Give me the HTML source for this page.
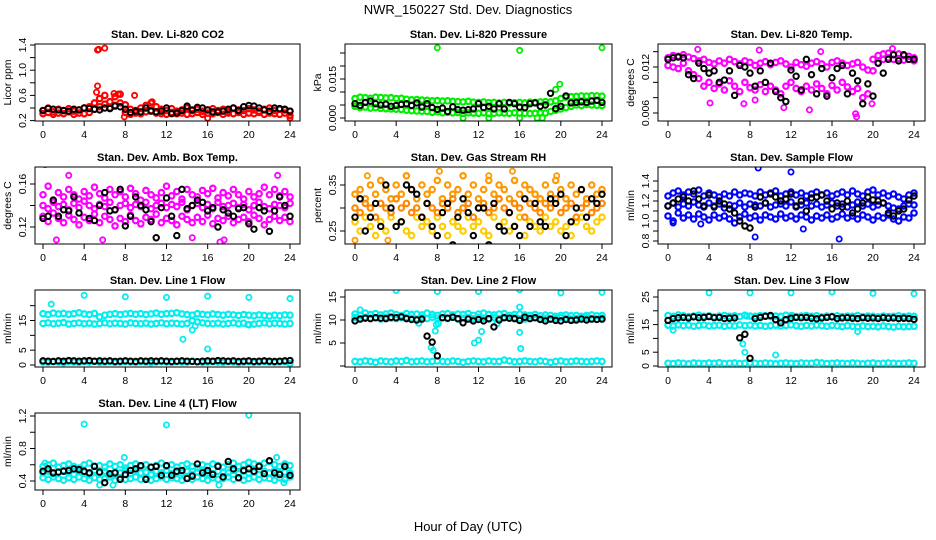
<!DOCTYPE html>
<html><head><meta charset="utf-8"><style>
body{margin:0;background:#fff;}
svg{display:block;font-family:"Liberation Sans",sans-serif;}
</style></head><body>
<svg id="chart" width="936" height="540" viewBox="0 0 936 540">
<rect width="936" height="540" fill="#fff"/>
<text x="468" y="14" text-anchor="middle" font-size="13">NWR_150227  Std. Dev. Diagnostics</text>
<text x="468" y="531" text-anchor="middle" font-size="13">Hour of Day (UTC)</text>
</svg>
<script>
const xTicks=[0,4,8,12,16,20,24];
// P1 CO2
const co2A=[0.36,0.40,0.34,0.38,0.36,0.39,0.35,0.37,0.40,0.42,0.48,0.55,0.60,0.50,0.58,0.62,0.45,0.38,0.36,0.40,0.44,0.48,0.42,0.38,0.36,0.39,0.35,0.37,0.40,0.36,0.38,0.35,0.37,0.39,0.36,0.38,0.35,0.40,0.37,0.36,0.39,0.37,0.35,0.38,0.40,0.36,0.38,0.37,0.35];
const co2B=[0.31,0.33,0.30,0.32,0.31,0.34,0.30,0.32,0.31,0.33,0.38,0.42,0.46,0.40,0.44,0.48,0.33,0.30,0.32,0.31,0.34,0.36,0.32,0.31,0.30,0.33,0.31,0.32,0.30,0.31,0.33,0.30,0.32,0.31,0.33,0.30,0.32,0.31,0.33,0.30,0.32,0.31,0.33,0.30,0.32,0.31,0.30,0.32,0.28];
const co2ExH=[5.3,5.4,6.0,5.3,5.2,6.9,7.3,8.9,16,24,7.9,10.6];
const co2ExV=[1.32,1.33,1.35,0.75,0.65,0.63,0.62,0.60,0.24,0.24,0.26,0.50];
const co2K=[0.36,0.39,0.38,0.37,0.36,0.35,0.38,0.37,0.40,0.39,0.38,0.37,0.40,0.39,0.43,0.42,0.38,0.33,0.35,0.34,0.40,0.35,0.34,0.35,0.40,0.31,0.32,0.36,0.43,0.37,0.41,0.40,0.37,0.34,0.34,0.35,0.38,0.40,0.36,0.42,0.44,0.43,0.40,0.37,0.35,0.40,0.39,0.38,0.35];
// P2 Pressure
const prA=[.0075,.008,.0078,.0076,.008,.0079,.0077,.0078,.0075,.0076,.0072,.007,.0071,.0069,.0068,.0066,.0067,.0065,.0066,.0064,.0063,.0062,.0064,.0061,.006,.0062,.0059,.006,.0058,.006,.0057,.0059,.006,.0058,.0061,.006,.0062,.0063,.0062,.0066,.0075,.008,.0082,.0083,.0085,.0084,.0086,.0085,.0084];
const prB=[.0045,.004,.0042,.0038,.004,.0037,.0036,.0035,.0034,.0033,.003,.0028,.0027,.0026,.0025,.0022,.0024,.002,.0022,.002,.0021,.0018,.002,.0019,.0018,.002,.0017,.0018,.002,.0019,.0018,.002,.0019,.0018,.0017,.0018,.002,.0019,.0025,.003,.0035,.004,.0045,.005,.0048,.0052,.005,.0049,.0048];
const prExH=[8,16,24,10.5,13,16,17.7,18.2,19.5,19.9];
const prExV=[.027,.026,.027,0,0,0,0,0,.011,.013];
const prK=[.0055,.0048,.006,.0065,.0055,.005,.0053,.0045,.0048,.0052,.0055,.0048,.0058,.0042,.0055,.004,.0033,.0038,.0025,.0043,.0032,.003,.0032,.0035,.0055,.004,.0045,.0035,.0055,.0035,.006,.0055,.0042,.004,.0055,.0058,.0045,.005,.0095,.0036,.0045,.0085,.0058,.006,.0062,.006,.0065,.0068,.006];
// P3 Li-820 Temp
const ltA=[.0132,.0135,.0134,.0136,.0133,.0131,.0128,.0130,.0126,.0124,.0128,.0125,.0130,.0127,.0124,.0128,.0126,.0122,.0125,.0127,.0123,.0126,.0128,.0124,.0120,.0126,.0123,.0121,.0125,.0127,.0124,.0120,.0126,.0128,.0125,.0122,.0124,.0126,.0120,.0116,.0130,.0135,.0137,.0138,.0136,.0137,.0135,.0134,.0132];
const ltB=[.0122,.0120,.0118,.0125,.0115,.0110,.0105,.0095,.0100,.0092,.0098,.0090,.0102,.0095,.0088,.0100,.0093,.0090,.0097,.0088,.0095,.0090,.0085,.0095,.0100,.0092,.0088,.0095,.0090,.0098,.0092,.0085,.0096,.0090,.0100,.0094,.0088,.0092,.0080,.0085,.0115,.0125,.0130,.0132,.0130,.0131,.0129,.0130,.0128];
const ltExH=[2.9,4.1,7.4,8.5,8.9,11.3,13.8,14.9,18.3,18.4,19.9,21.9];
const ltExV=[.0143,.0073,.0072,.0077,.0142,.0067,.0064,.0140,.0059,.0055,.0072,.0144];
const ltK=[.0130,.0132,.0133,.0132,.0110,.0105,.0125,.0118,.0112,.0115,.0100,.0103,.0115,.0083,.0122,.0120,.0112,.0095,.0115,.0100,.0125,.0088,.0080,.0075,.0116,.0108,.0090,.0130,.0110,.0085,.0118,.0082,.0106,.0118,.0122,.0085,.0112,.0102,.0072,.0098,.0082,.0125,.0112,.0130,.0136,.0128,.0136,.0130,.0130];
// P4 Amb box temp
const abA=[.150,.158,.145,.152,.148,.155,.150,.146,.153,.149,.157,.151,.147,.155,.150,.153,.148,.156,.151,.145,.154,.150,.147,.152,.158,.149,.153,.146,.155,.150,.148,.154,.151,.156,.147,.152,.149,.155,.150,.146,.153,.148,.151,.157,.150,.155,.149,.153,.148];
const abB=[.130,.125,.133,.128,.124,.131,.127,.122,.129,.126,.132,.124,.130,.127,.121,.128,.125,.131,.126,.123,.129,.127,.132,.124,.128,.126,.122,.130,.127,.124,.129,.125,.131,.123,.128,.126,.130,.124,.127,.129,.125,.131,.128,.122,.127,.130,.126,.129,.125];
const abC=[.140,.137,.143,.139,.141,.136,.142,.138,.144,.140,.137,.141,.139,.143,.136,.140,.142,.138,.141,.139,.143,.137,.140,.142,.138,.141,.139,.143,.136,.140,.142,.138,.141,.137,.143,.139,.140,.142,.138,.141,.136,.140,.143,.139,.137,.141,.140,.138,.142];
const abExH=[0.2,21.5,22.8,1.3,5.8,14.5,17.2,17.6,2.5];
const abExV=[.178,.180,.168,.108,.108,.110,.106,.108,.168];
const abK=[.128,.130,.145,.130,.136,.135,.148,.133,.100,.128,.126,.140,.152,.135,.136,.155,.121,.130,.148,.140,.136,.125,.110,.138,.147,.130,.112,.155,.137,.140,.145,.143,.135,.138,.120,.136,.133,.130,.137,.138,.123,.118,.138,.135,.116,.135,.148,.140,.130];
// P5 RH
const rhA=[.33,.34,.32,.35,.33,.36,.34,.32,.35,.33,.37,.34,.32,.35,.33,.34,.36,.32,.35,.33,.34,.37,.33,.35,.32,.34,.36,.33,.35,.34,.32,.36,.33,.35,.34,.33,.32,.35,.33,.36,.34,.32,.35,.33,.34,.32,.35,.33,.34];
const rhB=[.27,.25,.28,.26,.24,.27,.25,.28,.26,.27,.25,.24,.28,.26,.27,.25,.28,.26,.24,.27,.26,.25,.28,.26,.27,.25,.24,.28,.26,.27,.25,.26,.28,.24,.27,.26,.25,.28,.26,.27,.25,.26,.24,.27,.28,.26,.25,.27,.28];
const rhC=[.30,.29,.31,.30,.28,.31,.30,.29,.32,.30,.31,.29,.30,.28,.31,.30,.29,.31,.30,.32,.29,.30,.31,.28,.30,.31,.29,.30,.32,.30,.29,.31,.30,.28,.31,.30,.29,.31,.30,.32,.29,.30,.31,.28,.30,.31,.29,.30,.31];
const rhExH=[0,8.2,3.2,15.3,19.6,1.2,13.0];
const rhExV=[.23,.38,.23,.38,.37,.37,.37];
const rhK=[.28,.32,.25,.28,.31,.26,.35,.30,.26,.27,.35,.34,.33,.28,.31,.26,.24,.29,.31,.22,.28,.32,.29,.24,.30,.30,.22,.31,.26,.25,.29,.26,.24,.32,.26,.31,.27,.26,.32,.31,.33,.24,.27,.30,.34,.28,.32,.31,.33];
// P6 Sample flow
const sfA=[1.25,1.28,1.30,1.26,1.29,1.27,1.31,1.25,1.28,1.26,1.24,1.27,1.25,1.29,1.26,1.28,1.27,1.25,1.29,1.26,1.28,1.30,1.25,1.27,1.29,1.26,1.28,1.25,1.27,1.29,1.26,1.28,1.25,1.27,1.29,1.26,1.30,1.27,1.25,1.29,1.31,1.26,1.28,1.25,1.27,1.24,1.22,1.26,1.28];
const sfB=[1.05,1.00,1.08,1.03,1.06,1.02,1.07,1.04,1.01,1.06,1.03,1.05,1.02,0.98,1.04,1.07,1.03,1.05,1.01,1.06,1.04,1.02,1.07,1.03,1.05,1.02,1.06,1.04,1.01,1.05,1.03,1.06,1.02,1.04,1.07,1.03,1.05,1.02,1.06,1.04,1.01,1.05,1.03,1.06,1.02,1.00,1.04,1.03,1.08];
const sfC=[1.15,1.18,1.14,1.17,1.15,1.19,1.16,1.14,1.18,1.15,1.17,1.13,1.16,1.15,1.18,1.14,1.17,1.16,1.15,1.18,1.14,1.16,1.17,1.15,1.19,1.14,1.16,1.18,1.15,1.17,1.14,1.16,1.18,1.15,1.17,1.14,1.16,1.19,1.15,1.17,1.14,1.16,1.18,1.15,1.13,1.12,1.15,1.17,1.16];
const sfExH=[8.8,12,7.5,16.7,8.5,0.5,13.2,3.2];
const sfExV=[1.53,1.49,0.95,0.82,0.84,0.98,0.92,0.97];
const sfK=[1.15,1.18,1.22,1.24,1.20,1.30,1.22,1.15,1.26,1.14,1.20,1.17,1.12,1.08,1.00,0.95,0.93,1.14,1.24,1.18,1.27,1.24,1.20,1.22,1.27,1.15,1.20,1.10,1.23,1.24,1.26,1.20,1.12,1.18,1.14,1.20,1.08,1.12,1.18,1.24,1.21,1.20,1.18,1.08,1.05,1.10,1.12,1.21,1.25];
// P7 Line 1
const l1A=[17.3,17.0,17.5,17.2,17.4,17.1,17.3,17.6,17.2,17.0,17.4,16.2,16.8,17.1,17.3,17.0,17.2,17.4,17.1,17.3,17.0,17.2,17.5,17.1,17.3,17.4,17.6,17.2,17.0,16.8,17.3,17.1,16.9,17.2,17.0,16.8,17.1,16.9,16.7,17.0,16.8,16.6,16.9,16.7,16.5,16.8,16.6,16.9,16.8];
const l1B=[14.0,14.2,13.9,14.1,14.3,13.8,14.0,14.2,13.9,14.1,13.8,14.0,14.2,13.9,14.1,14.0,13.8,14.2,14.0,13.9,14.1,13.8,14.0,14.2,13.9,14.1,14.0,13.8,14.0,15.0,14.5,14.2,14.0,13.9,14.1,13.8,14.0,14.2,13.9,14.1,13.6,13.8,14.0,14.2,13.9,14.1,14.0,13.8,14.0];
const l1C=[1.0,0.9,1.1,1.0,0.8,1.1,1.0,0.9,1.1,1.0,1.2,0.9,1.0,1.1,0.9,1.0,1.1,1.0,0.9,1.1,1.0,0.8,1.0,1.1,1.0,0.9,1.1,1.0,1.0,1.3,1.1,0.9,1.0,1.1,1.0,0.9,1.1,1.0,0.8,1.0,1.1,0.9,1.0,1.1,1.0,0.9,1.0,1.1,0.5];
const l1ExH=[4,8,12,16,20,24,0.8,13.6,14.5,14.8,16.0,19.9];
const l1ExV=[23.5,23.0,22.8,23.2,22.8,22.4,20.5,8.7,11.8,13.2,5.4,13.6];
const l1K=[1.4,1.3,1.2,1.4,1.3,1.5,1.4,1.3,1.4,1.5,1.3,1.4,1.3,1.4,1.2,1.3,1.4,1.3,1.2,1.4,1.3,1.4,1.3,1.4,1.3,1.2,1.3,1.4,1.3,1.2,1.1,1.3,1.4,1.3,1.5,1.4,1.3,1.4,1.2,1.3,1.4,1.2,1.3,1.4,1.3,1.2,1.3,1.4,1.5];
// P8 Line 2
const l2A=[11.3,11.0,11.5,11.2,11.4,11.1,11.3,11.5,11.2,11.0,11.4,11.2,11.3,11.1,11.5,11.2,11.0,11.3,11.4,11.1,11.3,11.2,11.4,11.0,11.3,11.5,11.2,11.1,11.3,11.4,11.0,11.2,11.3,11.1,11.0,11.2,10.9,11.1,11.0,10.8,11.0,11.1,10.9,11.0,10.8,11.0,11.1,10.9,11.0];
const l2B=[10.5,10.3,10.6,10.4,10.5,10.2,10.6,10.4,10.3,10.5,10.6,10.4,10.2,10.5,10.3,10.6,10.4,10.5,10.3,10.6,10.2,10.4,10.5,10.3,10.6,10.4,10.2,10.5,10.3,10.6,10.4,10.5,10.3,10.2,10.4,10.5,10.3,10.4,10.2,10.3,10.5,10.4,10.2,10.3,10.4,10.5,10.3,10.2,10.4];
const l2C=[1.0,0.9,1.1,1.0,0.8,1.1,1.0,0.9,1.1,1.0,1.2,0.9,1.0,1.1,0.9,1.0,1.1,1.0,0.9,1.1,1.0,0.8,1.0,1.1,1.0,0.9,1.1,1.0,1.0,1.3,1.1,0.9,1.0,1.1,1.0,0.9,1.1,1.0,0.8,1.0,1.1,0.9,1.0,1.1,1.0,0.9,1.0,1.1,1.0];
const l2ExH=[4,8,12,16,20,24,0.5,7.4,7.6,7.8,7.9,8.1,11.6,12.0,12.3,13.8,16.0,16.0,16.1,6.2];
const l2ExV=[16.4,16.2,16.2,16.6,15.9,16.0,12.2,4.0,3.4,7.6,9.0,9.2,5.0,5.6,7.5,9.2,12.8,7.3,3.8,9.3];
const l2K=[9.8,10.2,10.4,10.3,10.5,10.4,10.3,10.6,10.5,10.7,10.3,10.1,10.0,10.2,6.5,5.2,2.2,10.5,10.4,10.6,10.3,9.4,10.2,9.8,10.1,9.8,10.3,8.5,10.0,10.5,10.4,10.3,9.9,10.6,10.3,10.5,10.1,9.8,10.2,9.9,9.8,10.1,9.9,10.0,10.2,10.0,10.2,10.1,10.2];
// P9 Line 3
const l3A=[18.3,18.0,18.5,18.2,17.9,18.1,18.4,18.0,18.2,17.8,18.1,18.3,18.0,18.2,17.9,18.4,18.1,18.0,18.3,18.2,17.9,18.1,18.0,18.4,18.2,17.9,18.1,18.3,18.0,18.2,17.8,18.1,18.0,18.2,17.9,18.1,18.0,18.3,17.9,18.1,18.0,17.8,18.1,17.9,18.0,18.2,17.9,18.1,18.0];
const l3B=[14.8,14.5,14.9,14.6,14.8,14.4,14.7,14.9,14.5,14.6,14.8,14.4,14.7,14.5,14.9,14.6,14.8,14.5,14.7,14.4,14.6,14.8,14.5,14.7,14.9,14.6,14.4,14.7,14.5,14.8,14.6,14.4,14.7,14.5,14.3,14.6,14.4,14.2,14.5,14.3,14.4,14.2,14.5,14.3,14.1,14.4,14.2,14.3,14.4];
const l3C=[1.0,0.9,1.1,1.0,0.8,1.1,1.0,0.9,1.1,1.0,1.2,0.9,1.0,1.1,0.9,1.0,1.1,1.0,0.9,1.1,1.0,0.8,1.0,1.1,1.0,0.9,1.1,1.0,1.0,1.3,1.1,0.9,1.0,1.1,1.0,0.9,1.1,1.0,0.8,1.0,1.1,0.9,1.0,1.1,1.0,0.9,1.0,1.1,1.0];
const l3ExH=[4,8,12,16,20,24,0.5,7.3,7.5,7.7,10.5,18.5,12.1];
const l3ExV=[26.5,26.5,26.5,26.8,26.3,26.2,13.0,8.0,5.0,18.0,4.0,12.5,18.4];
const l3K=[16.5,17.2,17.5,17.6,17.4,17.8,17.5,17.6,17.9,17.5,17.6,17.2,17.3,17.4,10.2,11.5,2.8,17.2,17.6,18.0,18.3,16.8,15.6,16.8,17.3,17.6,17.5,17.6,17.3,17.1,17.4,17.6,17.8,17.2,17.4,17.5,17.3,17.2,17.5,17.3,17.4,17.2,17.5,17.3,17.4,17.2,17.3,17.2,16.9];
// P10 Line 4
const l4A=[.58,.60,.62,.57,.59,.61,.58,.56,.60,.62,.58,.59,.57,.61,.58,.60,.56,.59,.61,.58,.60,.57,.59,.62,.58,.60,.57,.59,.61,.58,.56,.60,.58,.61,.59,.57,.60,.62,.58,.60,.63,.61,.59,.62,.64,.60,.58,.61,.59];
const l4B=[.44,.42,.45,.43,.41,.44,.42,.45,.43,.41,.44,.42,.43,.45,.41,.44,.42,.43,.45,.42,.44,.41,.43,.45,.42,.44,.43,.41,.44,.42,.45,.43,.41,.44,.42,.43,.45,.42,.44,.41,.43,.45,.42,.44,.43,.41,.44,.42,.45];
const l4C=[.50,.52,.49,.51,.53,.50,.48,.52,.51,.49,.53,.50,.52,.48,.51,.50,.53,.49,.52,.50,.51,.48,.52,.50,.53,.49,.51,.50,.52,.48,.51,.53,.50,.49,.52,.51,.50,.53,.49,.52,.50,.51,.48,.52,.50,.53,.49,.51,.50];
const l4ExH=[4,12,20,7.9,22.7,5.5,6.8,17.1,23.4,0.2];
const l4ExV=[1.10,1.09,1.21,0.69,0.69,0.35,0.35,0.35,0.38,0.62];
const l4K=[.52,.55,.50,.51,.52,.53,.55,.54,.52,.50,.58,.51,.38,.49,.50,.42,.48,.53,.55,.59,.42,.57,.58,.47,.59,.47,.52,.53,.43,.46,.61,.50,.53,.48,.58,.45,.64,.55,.44,.53,.55,.52,.58,.49,.65,.50,.48,.58,.47];

const NS='http://www.w3.org/2000/svg';
const svg=document.getElementById('chart');
function mk(tag,attrs,parent){const e=document.createElementNS(NS,tag);for(const k in attrs)e.setAttribute(k,attrs[k]);(parent||svg).appendChild(e);return e;}
const cols=[{l:35,r:300,x0:43,x24:290},{l:345,r:612,x0:355,x24:602},{l:658,r:925,x0:668,x24:914}];
const rows=[44,167,290,413];
const H=77;
const panels=[
 {name:'co2',title:'Stan. Dev. Li-820 CO2',ylab:'Licor ppm',c:0,r:0,v1:1.4,p1:45,v2:0.4,p2:108,ticks:[0.2,0.4,0.6,0.8,1.0,1.2,1.4],labels:['0.2','','0.6','','1.0','','1.4'],col:['#ff0000','#ff0000','#ff0000'],ser:[co2A,co2B],exH:co2ExH,exV:co2ExV,k:co2K},
 {name:'pressure',title:'Stan. Dev. Li-820 Pressure',ylab:'kPa',c:1,r:0,v1:0.015,p1:79,v2:0,p2:118,ticks:[0,0.005,0.01,0.015,0.02,0.025],labels:['0.000','','','0.015','',''],col:['#00ee00','#00ee00'],ser:[prA,prB],exH:prExH,exV:prExV,k:prK},
 {name:'li820-temp',title:'Stan. Dev. Li-820 Temp.',ylab:'degrees C',c:2,r:0,v1:0.012,p1:67,v2:0.006,p2:113,ticks:[0.006,0.008,0.010,0.012,0.014],labels:['0.006','','','0.012',''],col:['#ff00ff','#ff00ff'],ser:[ltA,ltB],exH:ltExH,exV:ltExV,k:ltK},
 {name:'amb-box-temp',title:'Stan. Dev. Amb. Box Temp.',ylab:'degrees C',c:0,r:1,v1:0.16,p1:184,v2:0.12,p2:227,ticks:[0.12,0.14,0.16],labels:['0.12','','0.16'],col:['#ff00ff','#ff00ff','#ff00ff'],ser:[abA,abB,abC],exH:abExH,exV:abExV,k:abK},
 {name:'gas-stream-rh',title:'Stan. Dev. Gas Stream RH',ylab:'percent',c:1,r:1,v1:0.35,p1:185,v2:0.25,p2:231,ticks:[0.25,0.30,0.35],labels:['0.25','','0.35'],col:['#ff9900','#ffcc00','#ff8800'],ser:[rhA,rhB,rhC],exH:rhExH,exV:rhExV,k:rhK},
 {name:'sample-flow',title:'Stan. Dev. Sample Flow',ylab:'ml/min',c:2,r:1,v1:1.4,p1:181,v2:0.8,p2:241,ticks:[0.8,0.9,1.0,1.1,1.2,1.3,1.4],labels:['0.8','','1.0','','1.2','','1.4'],col:['#0000ff','#0000ff','#0000ff'],ser:[sfA,sfB,sfC],exH:sfExH,exV:sfExV,k:sfK},
 {name:'line1-flow',title:'Stan. Dev. Line 1 Flow',ylab:'ml/min',c:0,r:2,v1:15,p1:320.5,v2:0,p2:365,ticks:[0,5,10,15,20],labels:['0','5','','15',''],col:['#00eeee','#00eeee','#00eeee'],ser:[l1A,l1B,l1C],exH:l1ExH,exV:l1ExV,k:l1K},
 {name:'line2-flow',title:'Stan. Dev. Line 2 Flow',ylab:'ml/min',c:1,r:2,v1:15,p1:297,v2:0,p2:366,ticks:[0,5,10,15],labels:['','5','10','15'],col:['#00eeee','#00eeee','#00eeee'],ser:[l2A,l2B,l2C],exH:l2ExH,exV:l2ExV,k:l2K},
 {name:'line3-flow',title:'Stan. Dev. Line 3 Flow',ylab:'ml/min',c:2,r:2,v1:25,p1:297,v2:0,p2:366,ticks:[0,5,10,15,20,25],labels:['0','5','','15','','25'],col:['#00eeee','#00eeee','#00eeee'],ser:[l3A,l3B,l3C],exH:l3ExH,exV:l3ExV,k:l3K},
 {name:'line4-flow',title:'Stan. Dev. Line 4 (LT) Flow',ylab:'ml/min',c:0,r:3,v1:1.2,p1:416,v2:0.4,p2:481,ticks:[0.4,0.6,0.8,1.0,1.2],labels:['0.4','','0.8','','1.2'],col:['#00eeee','#00eeee','#00eeee'],ser:[l4A,l4B,l4C],exH:l4ExH,exV:l4ExV,k:l4K}
];
panels.forEach((p,pi)=>{
  const C=cols[p.c], top=rows[p.r], bot=top+H;
  const g=mk('g',{});
  
  
  const xs=h=>C.x0+(C.x24-C.x0)*h/24;
  const ys=v=>p.p1+(v-p.v1)*(p.p2-p.p1)/(p.v2-p.v1);
  const cid='clip'+pi;
  const cp=mk('clipPath',{id:cid},g);mk('rect',{x:C.l,y:top,width:C.r-C.l,height:H},cp);
  const pts=mk('g',{'clip-path':'url(#'+cid+')'},g);
  
  
  p.ser.forEach((arr,si)=>{
    arr.forEach((v,i)=>{
      const c=mk('circle',{cx:xs(i*24/(arr.length-1)),cy:ys(v),r:2.7,fill:'none',stroke:p.col[si],'stroke-width':2.2},pts);
      
      
    });
  });
  p.exH.forEach((h,i)=>{
    const c=mk('circle',{cx:xs(h),cy:ys(p.exV[i]),r:2.6,fill:'none',stroke:p.col[0],'stroke-width':1.8},pts);
    
    
  });
  p.k.forEach((v,i)=>{
    const c=mk('circle',{cx:xs(i*24/(p.k.length-1)),cy:ys(v),r:2.7,fill:'none',stroke:'#000','stroke-width':2},pts);
    
    
  });
  const box=mk('rect',{x:C.l,y:top,width:C.r-C.l,height:H,fill:'none',stroke:'#000','stroke-width':1},g);
  
  
  const t=mk('text',{x:(C.l+C.r)/2,y:top-6,'text-anchor':'middle','font-size':11,'font-weight':'bold'},g);
  t.textContent=p.title;
  
  
  mk('line',{x1:C.x0,x2:C.x24,y1:bot,y2:bot,stroke:'#000'},g);
  xTicks.forEach(h=>{
    mk('line',{x1:xs(h),x2:xs(h),y1:bot,y2:bot+5,stroke:'#000'},g);
    const tl=mk('text',{x:xs(h),y:bot+17,'text-anchor':'middle','font-size':10.5},g);
    tl.textContent=h;
    
    
  });
  const ty=p.ticks.map(ys).filter(y=>y>=top-2&&y<=bot+2);
  mk('line',{x1:C.l,x2:C.l,y1:Math.min(...ty),y2:Math.max(...ty),stroke:'#000'},g);
  p.ticks.forEach((v,i)=>{
    const y=ys(v); if(y<top-2||y>bot+2)return;
    mk('line',{x1:C.l-5,x2:C.l,y1:y,y2:y,stroke:'#000'},g);
    if(p.labels[i]){
      const tl=mk('text',{x:C.l-9,y:y,'text-anchor':'middle','font-size':10.5,transform:'rotate(-90 '+(C.l-9)+' '+y+')'},g);
      tl.textContent=p.labels[i];
      
      
    }
  });
  const yl=mk('text',{x:C.l-24,y:(top+bot)/2,'text-anchor':'middle','font-size':10.5,transform:'rotate(-90 '+(C.l-24)+' '+((top+bot)/2)+')'},g);
  yl.textContent=p.ylab;
  
  
});
</script>
</body></html>
